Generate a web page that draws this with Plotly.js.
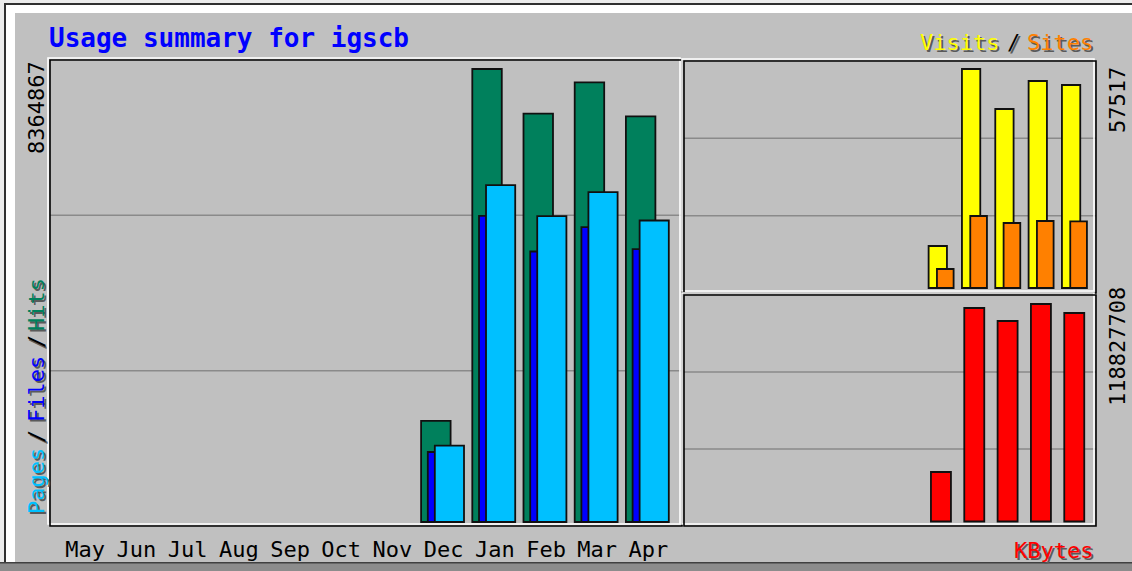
<!DOCTYPE html>
<html>
<head>
<meta charset="utf-8">
<script src="https://cdn.plot.ly/plotly-3.0.1.min.js"></script>
<style>html,body{margin:0;padding:0;background:#c0c0c0;}#chart{width:1132px;height:571px;}</style>
</head>
<body>
<div id="chart"></div>
<script>
// ---- data ----
var months = ['May','Jun','Jul','Aug','Sep','Oct','Nov','Dec','Jan','Feb','Mar','Apr'];
var hits   = [0,0,0,0,0,0,0,1866000,8364867,7540000,8117000,7489000];
var files  = [0,0,0,0,0,0,0,1293000,5654000,4995000,5446000,5039000];
var pages  = [0,0,0,0,0,0,0,1410000,6221000,5649000,6092000,5567000];
var visits = [0,0,0,0,0,0,0,11030,57517,47010,54360,53310];
var sites  = [0,0,0,0,0,0,0,4990,18910,17070,17600,17500];
var kbytes = [0,0,0,0,0,0,0,27040000,116640000,109540000,118827708,113910000];
var maxHits = 8364867, maxVisits = 57517, maxKbytes = 118827708;

// ---- helpers ----
var W = 1132, H = 571;
function px(x){ return x / W; }
function py(y){ return 1 - y / H; }
var idx = months.map(function(_, i){ return i; });
function nz(a){ return a.map(function(v){ return v ? v : null; }); }
var mono = 'DejaVu Sans Mono, Liberation Mono, monospace';
var outline = {color:'#101010', width:1.8};

var traces = [
  {type:'bar', x:idx, y:nz(hits),  offset:0,     width:0.576, marker:{color:'#00805c', line:outline}, xaxis:'x',  yaxis:'y'},
  {type:'bar', x:idx, y:nz(files), offset:0.131, width:0.576, marker:{color:'#0000ff', line:outline}, xaxis:'x',  yaxis:'y'},
  {type:'bar', x:idx, y:nz(pages), offset:0.268, width:0.57,  marker:{color:'#00c0ff', line:outline}, xaxis:'x',  yaxis:'y'},
  {type:'bar', x:idx, y:nz(visits),offset:0,     width:0.55,  marker:{color:'#ffff00', line:outline}, xaxis:'x2', yaxis:'y2'},
  {type:'bar', x:idx, y:nz(sites), offset:0.25,  width:0.5,   marker:{color:'#ff8000', line:outline}, xaxis:'x2', yaxis:'y2'},
  {type:'bar', x:idx, y:nz(kbytes),offset:0.07,  width:0.6,   marker:{color:'#ff0000', line:outline}, xaxis:'x3', yaxis:'y3'}
];

function hidden(extra){
  var a = {showgrid:false, zeroline:false, showticklabels:false, ticks:'', showline:false, fixedrange:true};
  for (var k in extra) a[k] = extra[k];
  return a;
}

// pixel geometry of the three panels
var mainX0=50, mainX1=682, mainY0=60, mainY1=526, mainBase=522, mainTop=69;
var rX0=684, rX1=1096, tY0=61, tY1=293, tBase=288, tTop=69;
var bY0=295, bY1=526, bBase=521.5, bTop=304;

function yRange(maxv, y0, y1, base, top){
  var s = maxv / (base - top);
  return [-(y1 - base) * s, maxv + (top - y0) * s];
}
var slotMain = 51.2, startMain = 62.7;
var slotR = 33.33, startR = 695.3;

var layout = {
  width:W, height:H,
  margin:{l:0,r:0,t:0,b:0,pad:0},
  paper_bgcolor:'#c0c0c0', plot_bgcolor:'#c0c0c0',
  showlegend:false, barmode:'overlay',
  xaxis: hidden({domain:[px(mainX0),px(mainX1)], range:[(mainX0-startMain)/slotMain,(mainX1-startMain)/slotMain],
    showticklabels:true, tickvals:idx.map(function(i){return i+0.44;}), ticktext:months,
    tickfont:{family:mono,size:22,color:'#000'}, ticklabelstandoff:8}),
  yaxis: hidden({domain:[py(mainY1),py(mainY0)], range:yRange(maxHits,mainY0,mainY1,mainBase,mainTop)}),
  xaxis2: hidden({domain:[px(rX0),px(rX1)], range:[(rX0-startR)/slotR,(rX1-startR)/slotR], anchor:'y2'}),
  yaxis2: hidden({domain:[py(tY1),py(tY0)], range:yRange(maxVisits,tY0,tY1,tBase,tTop), anchor:'x2'}),
  xaxis3: hidden({domain:[px(rX0),px(rX1)], range:[(rX0-startR)/slotR,(rX1-startR)/slotR], anchor:'y3'}),
  yaxis3: hidden({domain:[py(bY1),py(bY0)], range:yRange(maxKbytes,bY0,bY1,bBase,bTop), anchor:'x3'}),
  shapes:[], annotations:[]
};

// outer image frame
function prect(x0,y0,x1,y1,fill){
  layout.shapes.push({type:'rect', xref:'paper', yref:'paper', layer:'below',
    x0:px(x0), x1:px(x1), y0:py(y1), y1:py(y0), fillcolor:fill, line:{width:0}});
}
prect(0,0,W,H,'#ececec');
prect(4,3,W,562,'#303030');
prect(6,5,W,562,'#ffffff');
prect(15,13,W,562,'#c0c0c0');
prect(0,562,W,H,'#8c8c8c');
prect(0,562,W,563.5,'#404040');

// gridlines
[['x','y'],['x2','y2'],['x3','y3']].forEach(function(p){
  [1/3,2/3].forEach(function(f){
    layout.shapes.push({type:'line', xref:p[0]+' domain', yref:p[1]+' domain', layer:'below',
      x0:0, x1:1, y0:f, y1:f, line:{color:'#8a8a8a', width:1.5}});
  });
});

// panel frames (white offset + black)
function frame(x0,y0,x1,y1){
  layout.shapes.push({type:'rect', xref:'paper', yref:'paper', layer:'above',
    x0:px(x0-2), x1:px(x1-2), y0:py(y1-2), y1:py(y0-2), line:{color:'#ffffff', width:1.6}});
  layout.shapes.push({type:'rect', xref:'paper', yref:'paper', layer:'above',
    x0:px(x0), x1:px(x1), y0:py(y1), y1:py(y0), line:{color:'#000000', width:1.6}});
}
frame(mainX0,mainY0,mainX1,mainY1);
frame(rX0,tY0,rX1,tY1);
frame(rX0,bY0,rX1,bY1);

// texts
function txt(t, x, y, color, size, opts){
  opts = opts || {};
  var base = {xref:'paper', yref:'paper', showarrow:false, text:t,
    x:px(x), y:py(y), xanchor:opts.xanchor||'center', yanchor:'middle',
    textangle:opts.angle||0, font:{family:mono, size:size, color:color, weight:opts.bold?'bold':'normal'}};
  if (opts.shadow){
    var s = JSON.parse(JSON.stringify(base));
    s.x = px(x+2); s.y = py(y+2); s.font.color = '#5a5a5a';
    layout.annotations.push(s);
  }
  layout.annotations.push(base);
}
txt('Usage summary for igscb', 47, 38, '#0000ff', 26, {xanchor:'left', bold:true});

txt('Visits', 959, 43, '#ffff00', 22, {shadow:true});
txt('/', 1013, 43, '#000000', 22, {shadow:true});
txt('Sites', 1060, 43, '#ff8000', 22, {shadow:true});
txt('KBytes', 1053, 550, '#ff0000', 22, {shadow:true});

txt('Pages', 36, 481, '#00c0ff', 22, {angle:-90, shadow:true});
txt('/', 36, 437, '#000000', 22, {angle:-90, shadow:true});
txt('Files', 36, 389, '#0000ff', 22, {angle:-90, shadow:true});
txt('/', 36, 342, '#000000', 22, {angle:-90, shadow:true});
txt('Hits', 36, 305, '#00805c', 22, {angle:-90, shadow:true});

txt(String(maxHits), 37, 108, '#000000', 22, {angle:-90});
txt(String(maxVisits), 1117, 100, '#000000', 22, {angle:-90});
txt(String(maxKbytes), 1117, 347, '#000000', 22, {angle:-90});

Plotly.newPlot('chart', traces, layout, {staticPlot:true, displayModeBar:false});
</script>
</body>
</html>
